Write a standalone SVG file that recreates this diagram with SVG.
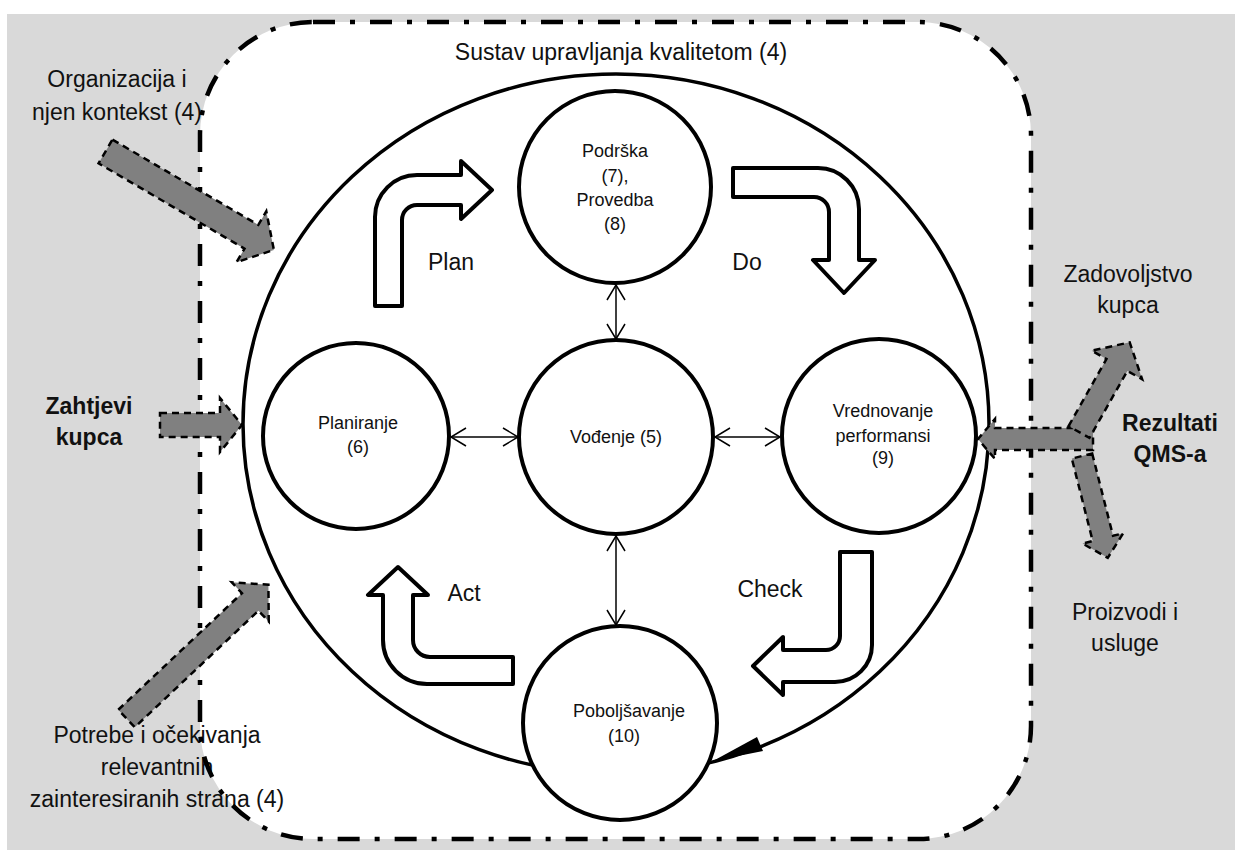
<svg xmlns="http://www.w3.org/2000/svg" width="1235" height="852" viewBox="0 0 1235 852">
<style>
  text { font-family: "Liberation Sans", Arial, sans-serif; fill: #111; }
  .lbl { font-size: 23px; text-anchor: middle; }
  .bold { font-weight: bold; }
  .ctxt { font-size: 18px; text-anchor: middle; }
  .node { fill: #fff; stroke: #000; stroke-width: 4; }
  .block { fill: #fff; stroke: #000; stroke-width: 4; stroke-linejoin: round; }
  .gray { fill: #808080; stroke: #000; stroke-width: 2.5; stroke-dasharray: 7 5; }
  .thin { stroke: #000; stroke-width: 1.5; fill: none; marker-start: url(#v); marker-end: url(#v); }
  .border { fill: none; stroke: #000; stroke-width: 4.5; stroke-dasharray: 22 15 5 15; }
</style>
<defs>
  <marker id="v" markerUnits="userSpaceOnUse" markerWidth="20" markerHeight="22" viewBox="-17 -11 18 22" refX="0" refY="0" orient="auto-start-reverse">
    <path d="M-15,-9 L0,0 L-15,9" fill="none" stroke="#000" stroke-width="1.5"/>
  </marker>
</defs>

<!-- background -->
<rect x="0" y="0" width="1235" height="852" fill="#fff"/>
<rect x="7" y="14" width="1228" height="836" fill="#d9d9d9"/>
<rect id="qms-area" x="200" y="22" width="831" height="817" rx="113" ry="113" fill="#fff"/>

<!-- big cycle -->
<g id="cycle">
  <ellipse cx="616" cy="424" rx="373" ry="350" fill="none" stroke="#000" stroke-width="3.5"/>
  <polygon points="713,761 757,737 763,751" fill="#000"/>
</g>

<!-- nodes -->
<g id="node-podrska">
  <circle class="node" cx="615" cy="187" r="96"/>
  <text class="ctxt" x="615" y="157">Podrška</text>
  <text class="ctxt" x="615" y="182">(7),</text>
  <text class="ctxt" x="615" y="206">Provedba</text>
  <text class="ctxt" x="615" y="230">(8)</text>
</g>
<g id="node-planiranje">
  <circle class="node" cx="356" cy="436" r="93"/>
  <text class="ctxt" x="358" y="429">Planiranje</text>
  <text class="ctxt" x="358" y="453">(6)</text>
</g>
<g id="node-vodenje">
  <circle class="node" cx="616" cy="437" r="97"/>
  <text class="ctxt" x="616" y="443">Vođenje (5)</text>
</g>
<g id="node-vrednovanje">
  <circle class="node" cx="879" cy="436" r="97"/>
  <text class="ctxt" x="883" y="417">Vrednovanje</text>
  <text class="ctxt" x="883" y="442">performansi</text>
  <text class="ctxt" x="883" y="464">(9)</text>
</g>
<g id="node-poboljsavanje">
  <circle class="node" cx="620" cy="723" r="97"/>
  <text class="ctxt" x="629" y="717">Poboljšavanje</text>
  <text class="ctxt" x="624" y="742">(10)</text>
</g>

<!-- PDCA block arrows -->
<g id="pdca-arrows">
  <path id="arrow-plan" class="block" d="M375,306 L375,217 A42,42 0 0 1 417,175 L461,175 L461,161 L492,190 L461,219 L461,205 L417,205 A15,15 0 0 0 402,220 L402,306 Z"/>
  <path id="arrow-do" class="block" d="M733,168 L818,168 A41,41 0 0 1 859,209 L859,260 L875,260 L844,293 L813,260 L829,260 L829,212 A15,15 0 0 0 814,197 L733,197 Z"/>
  <path id="arrow-check" class="block" d="M840,552 L872,552 L872,645 A37,37 0 0 1 835,682 L783,682 L783,695 L753,666 L783,637 L783,650 L826,650 A14,14 0 0 0 840,636 Z"/>
  <path id="arrow-act" class="block" d="M513,657 L430,657 A17,17 0 0 1 413,640 L413,595 L428,595 L398,567 L368,595 L383,595 L383,640 A44,44 0 0 0 427,684 L513,684 Z"/>
</g>

<!-- thin connectors -->
<g id="connectors">
  <line class="thin" x1="616" y1="285" x2="616" y2="339"/>
  <line class="thin" x1="616" y1="536" x2="616" y2="625"/>
  <line class="thin" x1="451" y1="437" x2="518" y2="437"/>
  <line class="thin" x1="715" y1="437" x2="780" y2="437"/>
</g>

<!-- left-side labels (under border) -->
<g id="label-potrebe">
  <text class="lbl" x="157" y="743">Potrebe i očekivanja</text>
  <text class="lbl" x="157" y="775">relevantnih</text>
  <text class="lbl" x="157" y="807">zainteresiranih strana (4)</text>
</g>
<g id="label-organizacija">
  <text class="lbl" x="117" y="87">Organizacija i</text>
  <text class="lbl" x="117" y="120">njen kontekst (4)</text>
</g>

<!-- QMS border -->
<rect x="200" y="22" width="831" height="817" rx="113" ry="113" class="border"/>

<!-- grey input/output arrows -->
<g id="io-arrows">
  <path class="gray" transform="translate(105.5,151.5) rotate(30.3)" d="M0,-13.75 L169,-13.75 L169,-29.5 L195,0 L169,29.5 L169,13.75 L0,13.75 Z"/>
  <path class="gray" transform="translate(160,425)" d="M0,-12 L60,-12 L60,-27 L82,0 L60,27 L60,12 L0,12 Z"/>
  <path class="gray" transform="translate(126.5,718.5) rotate(-43.3)" d="M0,-12 L170,-12 L170,-27 L195,0 L170,27 L170,12 L0,12 Z"/>
  <path class="gray" transform="translate(1093,439) rotate(180)" d="M0,-11 L98,-11 L98,-20 L115,0 L98,20 L98,11 L0,11 Z"/>
  <path class="gray" transform="translate(1079,432) rotate(-60.5)" d="M0,-12 L77,-12 L77,-29 L103,0 L77,29 L77,12 L0,12 Z"/>
  <path class="gray" transform="translate(1082,456) rotate(75.8)" d="M0,-10.5 L85,-10.5 L85,-21 L105,0 L85,21 L85,10.5 L0,10.5 Z"/>
</g>

<!-- labels -->
<text id="title" class="lbl" x="621" y="60">Sustav upravljanja kvalitetom (4)</text>
<g id="label-zahtjevi">
  <text class="lbl bold" x="89" y="414">Zahtjevi</text>
  <text class="lbl bold" x="89" y="445">kupca</text>
</g>
<g id="label-zadovoljstvo">
  <text class="lbl" x="1128" y="282">Zadovoljstvo</text>
  <text class="lbl" x="1128" y="313">kupca</text>
</g>
<g id="label-rezultati">
  <text class="lbl bold" x="1170" y="431">Rezultati</text>
  <text class="lbl bold" x="1170" y="462">QMS-a</text>
</g>
<g id="label-proizvodi">
  <text class="lbl" x="1125" y="620">Proizvodi i</text>
  <text class="lbl" x="1125" y="651">usluge</text>
</g>
<g id="pdca-labels">
  <text class="lbl" x="451" y="270">Plan</text>
  <text class="lbl" x="747" y="270">Do</text>
  <text class="lbl" x="464" y="601">Act</text>
  <text class="lbl" x="770" y="597">Check</text>
</g>
</svg>
